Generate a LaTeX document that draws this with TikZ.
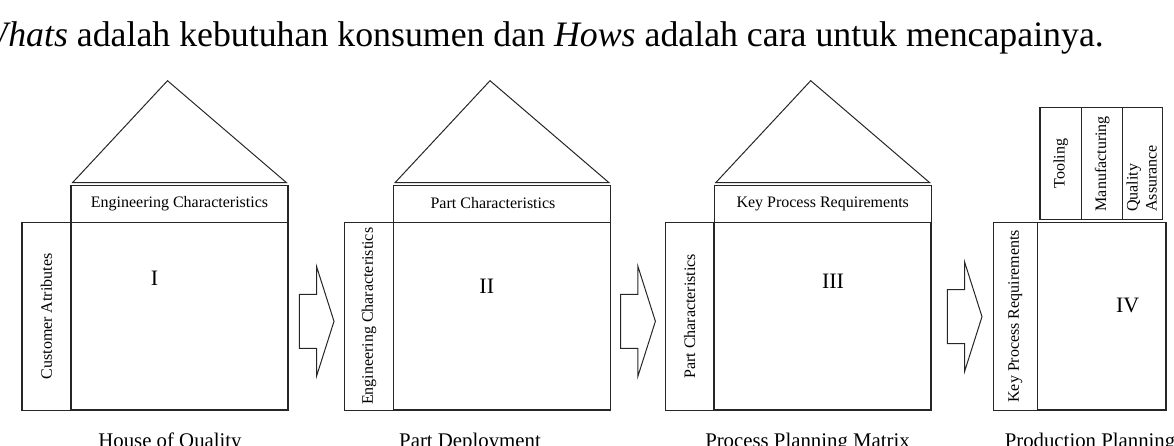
\documentclass[tikz,border=0pt]{standalone}
\usepackage{fontspec}
\setmainfont{Liberation Serif}
\usetikzlibrary{positioning}

\begin{document}
\begin{tikzpicture}[
    x=1pt, y=-1pt,
    box/.style={draw=black!85, line width=1.1pt, inner sep=0pt, outer sep=0pt,
                font=\fontsize{16}{19}\selectfont},
    matrixbox/.style={box, line width=1.6pt, minimum width=217pt, minimum height=187.5pt},
    headbox/.style={box, minimum width=217pt, minimum height=37.5pt},
    sidebox/.style={box, minimum width=49pt, minimum height=187.5pt},
    topbox/.style={box, minimum height=112.3pt},
    roof/.style={draw=black!85, line width=1pt},
    blockarrow/.style={draw=black!85, line width=1pt},
    sidetext/.style={rotate=90, inner sep=0pt, font=\fontsize{16}{19}\selectfont},
    numeral/.style={inner sep=0pt, font=\fontsize{22}{26}\selectfont},
    caption/.style={anchor=base, inner sep=0pt, font=\fontsize{20.8}{25}\selectfont},
  ]
  \useasboundingbox (0,0) rectangle (1174,446);
  \clip (0,0) rectangle (1174,446);

  \node[anchor=base east, inner sep=0pt, font=\fontsize{35.8}{42}\selectfont] (intro) at (1104,46.7)
    {\textit{Whats} adalah kebutuhan konsumen dan \textit{Hows} adalah cara untuk mencapainya.};

  % house of quality
  \node[matrixbox] (m1) at (179.5,316.35) {};
  \node[headbox, above=0pt of m1] (h1) {Engineering Characteristics};
  \node[sidebox, left=0pt of m1] (w1) {};
  \node[sidetext] at (w1.center) {Customer Atributes};
  \node[numeral] (n1) at (154.5,278) {I};
  \draw[roof] ([xshift=1.5pt, yshift=2.4pt]h1.north west) -- ([xshift=-12pt, yshift=104.4pt]h1.north)
    -- ([xshift=-1.5pt, yshift=2.4pt]h1.north east) -- cycle;
  \node[caption] (c1) at (170,447) {House of Quality};

  % part deployment
  \node[matrixbox] (m2) at (502,316.35) {};
  \node[headbox, above=0pt of m2] (h2) {};
  \node[inner sep=0pt, font=\fontsize{16}{19}\selectfont] at ([xshift=-9pt, yshift=1pt]h2.center) {Part Characteristics};
  \node[sidebox, left=0pt of m2] (w2) {};
  \node[sidetext] at (w2.center) {Engineering Characteristics};
  \node[numeral] (n2) at (486.8,285.8) {II};
  \draw[roof] ([xshift=1.5pt, yshift=2.4pt]h2.north west) -- ([xshift=-12pt, yshift=104.4pt]h2.north)
    -- ([xshift=-1.5pt, yshift=2.4pt]h2.north east) -- cycle;
  \node[caption] (c2) at (470,447) {Part Deployment};

  % process planning
  \node[matrixbox] (m3) at (822.7,316.35) {};
  \node[headbox, above=0pt of m3] (h3) {Key Process Requirements};
  \node[sidebox, left=0pt of m3] (w3) {};
  \node[sidetext] at (w3.center) {Part Characteristics};
  \node[numeral] (n3) at (833,281.3) {III};
  \draw[roof] ([xshift=1.5pt, yshift=2.4pt]h3.north west) -- ([xshift=-12pt, yshift=104.4pt]h3.north)
    -- ([xshift=-1.5pt, yshift=2.4pt]h3.north east) -- cycle;
  \node[caption] (c3) at (807.5,447) {Process Planning Matrix};

  % production planning
  \node[matrixbox, minimum width=128.4pt] (m4) at (1101.5,316.35) {};
  \node[sidebox, minimum width=44pt, left=0pt of m4] (w4) {};
  \node[sidetext] at (w4.center) {Key Process Requirements};
  \node[topbox, minimum width=41.7pt, above right=2.7pt and 2.7pt of m4.north west] (t1) {};
  \node[topbox, minimum width=41pt, right=0pt of t1] (t2) {};
  \node[topbox, minimum width=40pt, right=0pt of t2] (t3) {};
  \node[sidetext] at (t1.center) {Tooling};
  \node[sidetext] at (t2.center) {Manufacturing};
  \node[sidetext, anchor=west, align=left] at ([xshift=-1pt, yshift=8pt]t3.south) {Quality\\Assurance};
  \node[numeral] (n4) at (1127.7,305) {IV};
  \node[caption] (c4) at (1090,447) {Production Planning};

  % block arrows between the houses
  \coordinate (a1) at (299.3,321.3);
  \coordinate (a2) at (620.7,321.3);
  \coordinate (a3) at (947.3,316.7);
  \draw[blockarrow] (a1) ++(0,-27) -- ++(17.2,0) -- ++(0,-28) -- ++(17.5,55) -- ++(-17.5,55) -- ++(0,-28) -- ++(-17.2,0) -- cycle;
  \draw[blockarrow] (a2) ++(0,-27) -- ++(17.2,0) -- ++(0,-28) -- ++(17.5,55) -- ++(-17.5,55) -- ++(0,-28) -- ++(-17.2,0) -- cycle;
  \draw[blockarrow] (a3) ++(0,-27) -- ++(17.2,0) -- ++(0,-28) -- ++(17.5,55) -- ++(-17.5,55) -- ++(0,-28) -- ++(-17.2,0) -- cycle;
\end{tikzpicture}
\end{document}
